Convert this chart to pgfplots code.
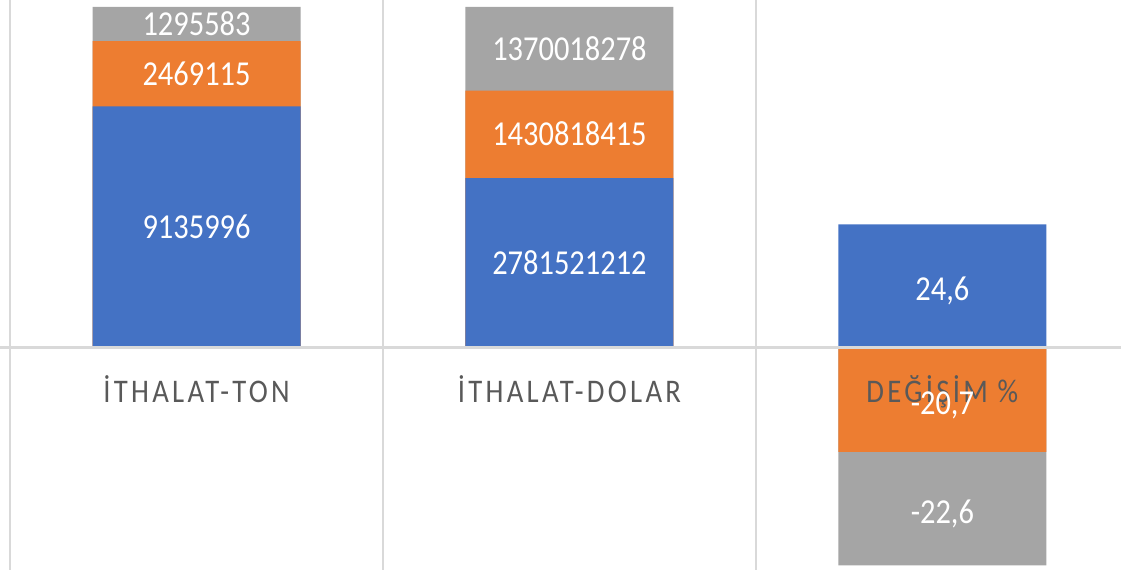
\documentclass[border=0pt]{standalone}
\usepackage{pgfplots}
\pgfplotsset{compat=1.18}
\usepackage{fontspec}
\setmainfont{Carlito}
\newfontfamily\lblfont[FakeStretch=0.87]{Carlito}
\newfontfamily\catfont[FakeStretch=0.87,LetterSpace=10]{Carlito}
\definecolor{sBlue}{HTML}{4472C4}
\definecolor{sOrange}{HTML}{ED7D31}
\definecolor{sGray}{HTML}{A5A5A5}
\definecolor{gridgray}{HTML}{D9D9D9}
\definecolor{catgray}{HTML}{595959}
\begin{document}
\begin{tikzpicture}
\begin{axis}[
  name=ax,
  scale only axis,
  width=1121pt, height=570pt,
  xmin=-0.527, xmax=2.479,
  ymin=-65.1, ymax=102.05,
  xtick={-0.5,0.5,1.5,2.5},
  xticklabels={},
  ytick=\empty,
  xmajorgrids,
  major grid style={draw=gridgray, line width=2pt},
  axis line style={draw=none},
  major tick length=0pt,
  bars/.style={ybar, bar width=208pt, bar shift=0pt, draw=none},
  vals/.style={draw=none, mark=none, nodes near coords, point meta=explicit symbolic,
    every node near coord/.style={anchor=base, inner sep=0pt, text=white,
      font=\lblfont\fontsize{35}{40}\selectfont}},
]
% 100% stacked shares, cumulative, drawn back to front
\addplot[bars, fill=sGray] coordinates {(0,100) (1,100) (2,-63.77)};
\addplot[bars, fill=sOrange] coordinates {(0,89.96) (1,75.46) (2,-30.49)};
\addplot[bars, fill=sBlue] coordinates {(0,70.82) (1,49.83) (2,36.23)};
% zero line
\addplot[gridgray, line width=3pt] coordinates {(-0.527,0) (2.479,0)};
% category labels
\addplot[draw=none, mark=none, nodes near coords, point meta=explicit symbolic,
  every node near coord/.style={anchor=base, inner sep=0pt, text=catgray,
    font=\catfont\fontsize{33}{38}\selectfont}]
  coordinates {(0,-16.0) [İTHALAT-TON] (1,-16.0) [İTHALAT-DOLAR] (2,-16.0) [DEĞİŞİM \%]};
% data labels
\addplot[vals] coordinates {
  (0,32.1) [9135996] (0,77.1) [2469115] (0,91.7) [1295583]
  (1,21.6) [2781521212] (1,59.3) [1430818415] (1,84.4) [1370018278]
  (2,13.8) [24,6] (2,-19.6) [-20,7] (2,-51.5) [-22,6]};
\end{axis}
\pgfresetboundingbox
\path (ax.south west) rectangle (ax.north east);
\end{tikzpicture}
\end{document}
